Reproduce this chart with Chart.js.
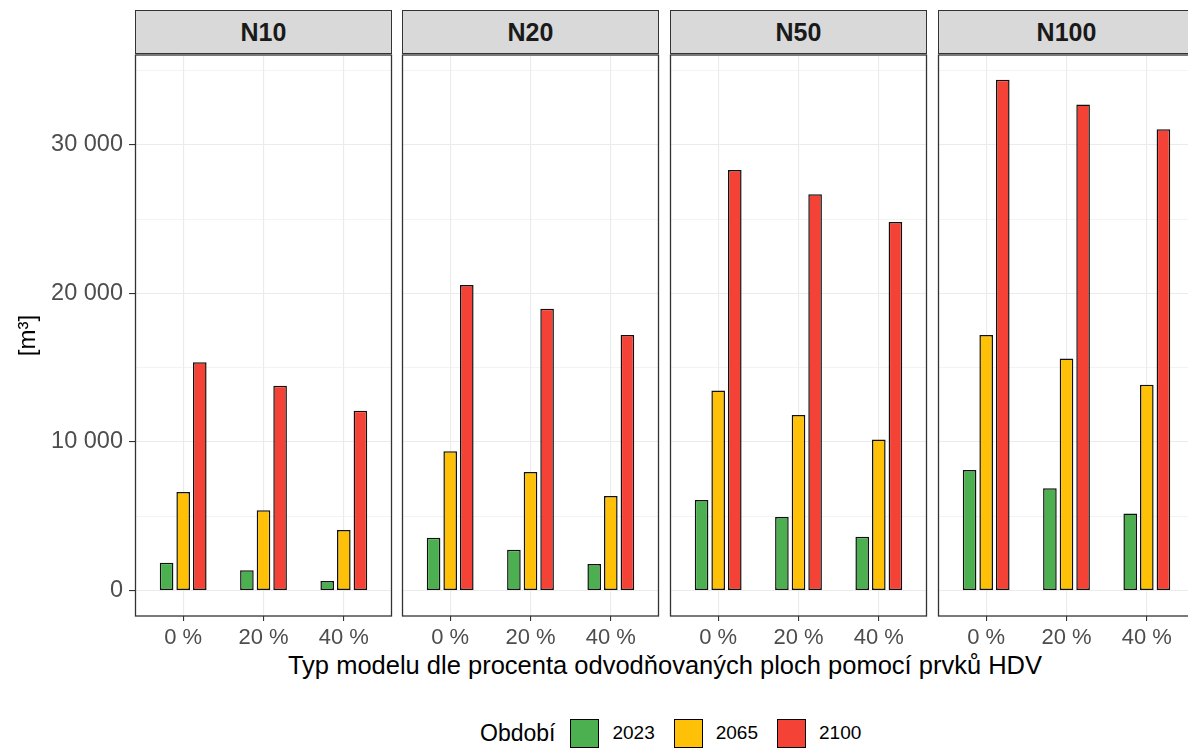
<!DOCTYPE html>
<html>
<head>
<meta charset="utf-8">
<script src="https://cdn.jsdelivr.net/npm/chart.js@4.4.1/dist/chart.umd.min.js"></script>
<style>
  body { margin: 0; background: #fff; }
  #wrap { position: relative; width: 1188px; height: 749px; overflow: hidden; background: #fff; font-family: "Liberation Sans", Arial, sans-serif; }
  #wrap canvas { position: absolute; left: 0; top: 0; }
  .strip { position: absolute; top: 10px; height: 44px; box-sizing: border-box; border: 1.3px solid #333; background: #d9d9d9;
           color: #1a1a1a; font-weight: bold; font-size: 25px; display: flex; align-items: center; justify-content: center; }
  #xtitle { position: absolute; left: 135px; width: 1060px; top: 651px; text-align: center; font-size: 25.5px; color: #000; }
  #legend { position: absolute; left: 480px; top: 718px; height: 30px; display: flex; align-items: center; }
  #legend .ttl { font-size: 23px; color: #000; margin-right: 15px; }
  #legend .sw { width: 29px; height: 29px; box-sizing: border-box; border: 1.5px solid #000; margin-right: 13px; }
  #legend .lab { font-size: 19px; color: #000; margin-right: 19px; }
</style>
</head>
<body>
<div id="wrap">
  <div id="xtitle">Typ modelu dle procenta odvodňovaných ploch pomocí prvků HDV</div>
  <div id="legend"></div>
</div>
<script>
document.addEventListener("DOMContentLoaded", function () {

    // Data: panels, categories and the three periods (values in m3)
    const panels = ["N10", "N20", "N50", "N100"];
    const categories = ["0 %", "20 %", "40 %"];
    const periods = ["2023", "2065", "2100"];
    const periodColors = ["#4caf50", "#ffc107", "#f44336"];

    // values per panel, in category order 0 %, 20 %, 40 %
    const values2023 = [
        [1870, 1360, 640],      // N10
        [3560, 2750, 1780],     // N20
        [6090, 4950, 3620],     // N50
        [8110, 6880, 5190]      // N100
    ];
    const values2065 = [
        [6630, 5400, 4070],
        [9370, 7980, 6360],
        [13460, 11820, 10160],
        [17200, 15620, 13860]
    ];
    const values2100 = [
        [15370, 13790, 12110],
        [20570, 18980, 17200],
        [28320, 26680, 24810],
        [34400, 32730, 31060]
    ];
    const seriesValues = [values2023, values2065, values2100];

    // y grid: major lines carry labels, minor lines in between
    const yGridValues = [0, 5000, 10000, 15000, 20000, 25000, 30000, 35000];
    const yTickLabels = { 0: "0", 10000: "10 000", 20000: "20 000", 30000: "30 000" };
    const yMin = -1717, yMax = 36060;

    // panel boxes in page pixels
    const panelLeft = [135, 402, 670, 938];
    const panelRight = [392, 659, 927, 1195];
    const panelTop = 55, panelBottom = 616;
    const canvasW = 1200, canvasH = 749, xAxisH = 45;

    const wrap = document.getElementById("wrap");
    const fontFamily = "'Liberation Sans', Arial, sans-serif";

    const panelBorder = {
        id: "panelBorder",
        afterDraw(chart) {
            const a = chart.chartArea;
            const ctx = chart.ctx;
            ctx.save();
            ctx.strokeStyle = "#333333";
            ctx.lineWidth = 1.3;
            ctx.strokeRect(a.left + 0.5, a.top, a.right - a.left - 1, a.bottom - a.top);
            ctx.restore();
        }
    };

    const isMajor = ctx => ctx.tick && yTickLabels[ctx.tick.value] !== undefined;

    panels.forEach(function (name, p) {
        const strip = document.createElement("div");
        strip.className = "strip";
        strip.style.left = panelLeft[p] + "px";
        strip.style.width = (panelRight[p] - panelLeft[p]) + "px";
        strip.textContent = name;
        wrap.appendChild(strip);

        const canvas = document.createElement("canvas");
        canvas.width = canvasW;
        canvas.height = canvasH;
        wrap.appendChild(canvas);

        const first = p === 0;

        new Chart(canvas.getContext("2d"), {
            type: "bar",
            data: {
                datasets: periods.map((per, s) => ({
                    label: per,
                    data: categories.map((c, i) => ({ x: i + 1, y: seriesValues[s][p][i] })),
                    backgroundColor: periodColors[s],
                    borderColor: "#111111",
                    borderWidth: 1.5,
                    borderSkipped: false,
                    categoryPercentage: 0.62,
                    barPercentage: 0.82
                }))
            },
            options: {
                responsive: false,
                animation: false,
                devicePixelRatio: 1,
                layout: {
                    padding: {
                        left: first ? 0 : panelLeft[p],
                        right: canvasW - panelRight[p],
                        top: panelTop,
                        bottom: canvasH - panelBottom - xAxisH
                    }
                },
                plugins: { legend: { display: false }, tooltip: { enabled: false } },
                scales: {
                    x: {
                        type: "linear",
                        min: 0.4,
                        max: 3.6,
                        offset: false,
                        border: { display: false },
                        grid: { offset: false, color: "#ebebeb", lineWidth: 1.1, tickColor: "#333333", tickLength: 5 },
                        afterBuildTicks: s => { s.ticks = categories.map((c, i) => ({ value: i + 1 })); },
                        ticks: {
                            maxRotation: 0,
                            autoSkip: false,
                            padding: 4,
                            color: "#4d4d4d",
                            font: { family: fontFamily, size: 22 },
                            callback: v => categories[v - 1] || ""
                        },
                        afterFit: s => { s.height = xAxisH; }
                    },
                    y: {
                        type: "linear",
                        min: yMin,
                        max: yMax,
                        border: { display: false },
                        afterBuildTicks: s => { s.ticks = yGridValues.map(v => ({ value: v })); },
                        grid: {
                            color: "#ebebeb",
                            lineWidth: ctx => isMajor(ctx) ? 1.1 : 0.6,
                            drawTicks: first,
                            tickLength: 6,
                            tickColor: ctx => isMajor(ctx) ? "#333333" : "rgba(0,0,0,0)"
                        },
                        ticks: {
                            display: first,
                            autoSkip: false,
                            padding: 6,
                            color: "#4d4d4d",
                            font: { family: fontFamily, size: 23.5 },
                            callback: v => yTickLabels[v] || ""
                        },
                        title: {
                            display: first,
                            text: "[m³]",
                            color: "#000000",
                            font: { family: fontFamily, size: 24 },
                            padding: { top: 14, bottom: 0 }
                        },
                        afterFit: s => { s.width = first ? panelLeft[0] : 0; }
                    }
                }
            },
            plugins: [panelBorder]
        });
    });

    // legend
    const legend = document.getElementById("legend");
    const ttl = document.createElement("span");
    ttl.className = "ttl";
    ttl.textContent = "Období";
    legend.appendChild(ttl);
    periods.forEach(function (per, s) {
        const sw = document.createElement("span");
        sw.className = "sw";
        sw.style.background = periodColors[s];
        legend.appendChild(sw);
        const lab = document.createElement("span");
        lab.className = "lab";
        lab.textContent = per;
        legend.appendChild(lab);
    });
});
</script>
</body>
</html>
